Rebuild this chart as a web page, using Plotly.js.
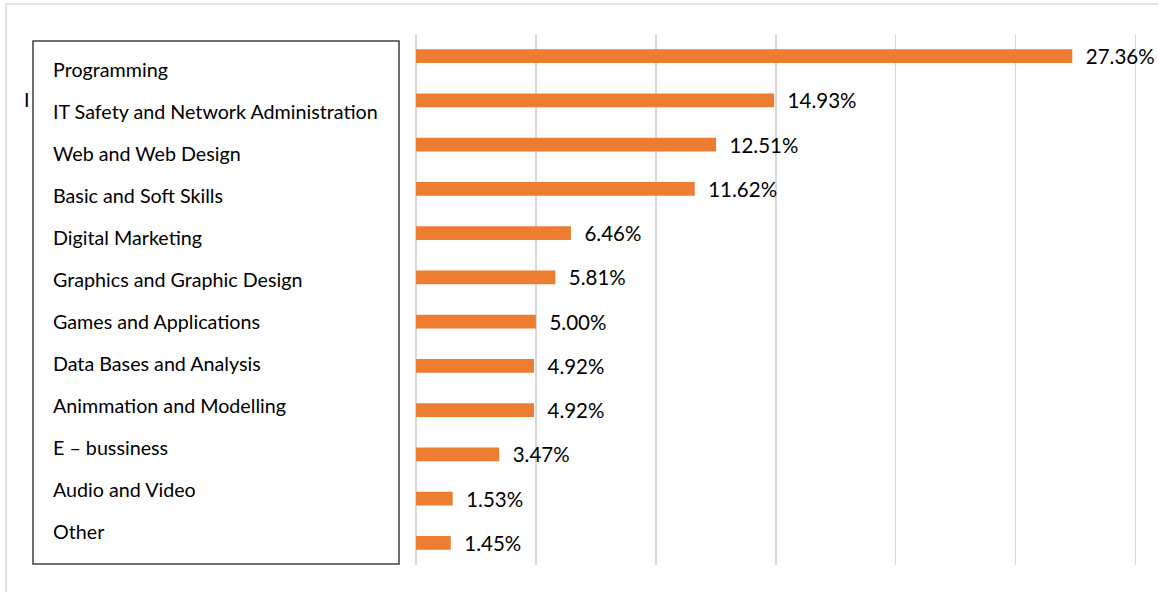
<!DOCTYPE html>
<html>
<head>
<meta charset="utf-8">
<script src="https://cdn.plot.ly/plotly-3.0.1.min.js"></script>
<style>html,body{margin:0;padding:0;background:#fff;overflow:hidden}#chart{width:1158px;height:592px}</style>
</head>
<body>
<div id="chart"></div>
<script>
const categories = [
  "Programming",
  "IT Safety and Network Administration",
  "Web and Web Design",
  "Basic and Soft Skills",
  "Digital Marketing",
  "Graphics and Graphic Design",
  "Games and Applications",
  "Data Bases and Analysis",
  "Animmation and Modelling",
  "E \u2013 bussiness",
  "Audio and Video",
  "Other"
];
const shares = [27.36, 14.93, 12.51, 11.62, 6.46, 5.81, 5.00, 4.92, 4.92, 3.47, 1.53, 1.45];
const valueLabels = shares.map(v => v.toFixed(2) + "%");

const W = 1158, H = 592;
const M = {l: 416, r: 20, t: 34, b: 27};
const PW = W - M.l - M.r, PH = H - M.t - M.b;
const px = x => (x - M.l) / PW;
const py = y => (H - M.b - y) / PH;

const FONT = "Lato, 'Open Sans', sans-serif";

const annotations = categories.map((c, i) => ({
  xref: "paper", yref: "paper",
  x: px(51), y: py(69.5 + 42 * i),
  xanchor: "left", yanchor: "middle",
  text: c, showarrow: false,
  font: {family: FONT, size: 19.7, color: "#000"}
}));
annotations.push({
  xref: "paper", yref: "paper", x: px(22), y: py(100),
  xanchor: "left", yanchor: "middle", text: "I", showarrow: false,
  font: {family: FONT, size: 19.7, color: "#000"}
});

const shapes = [
  {type: "rect", xref: "paper", yref: "paper", x0: px(6), x1: px(1170), y0: py(4), y1: py(600),
   line: {color: "#d9d9d9", width: 1.5}, fillcolor: "rgba(0,0,0,0)", layer: "below"},
  {type: "rect", xref: "paper", yref: "paper", x0: px(33), x1: px(399), y0: py(41), y1: py(564),
   line: {color: "#404040", width: 1.5}, fillcolor: "#ffffff", layer: "below"}
];

const trace = {
  type: "bar", orientation: "h",
  x: shares, y: categories,
  marker: {color: "#ED7D31"},
  text: valueLabels,
  texttemplate: "\u00a0\u00a0%{text}",
  textposition: "outside",
  constraintext: "none",
  cliponaxis: false,
  textfont: {family: FONT, size: 20.5, color: "#000"},
  hoverinfo: "none"
};

const layout = {
  width: W, height: H,
  margin: M,
  paper_bgcolor: "#fff", plot_bgcolor: "#fff",
  showlegend: false,
  bargap: 0.69,
  xaxis: {range: [0, 30.1], dtick: 5, tick0: 0, showticklabels: false, ticks: "",
          showgrid: true, gridcolor: "#d9d9d9", gridwidth: 1.5,
          zeroline: true, zerolinecolor: "#d9d9d9", zerolinewidth: 1.5, showline: false, fixedrange: true},
  yaxis: {type: "category", range: [11.5, -0.5], showticklabels: false, ticks: "",
          showgrid: false, zeroline: false, showline: false, fixedrange: true},
  annotations: annotations,
  shapes: shapes
};

Plotly.newPlot("chart", [trace], layout, {displayModeBar: false, staticPlot: true});
</script>
</body>
</html>
